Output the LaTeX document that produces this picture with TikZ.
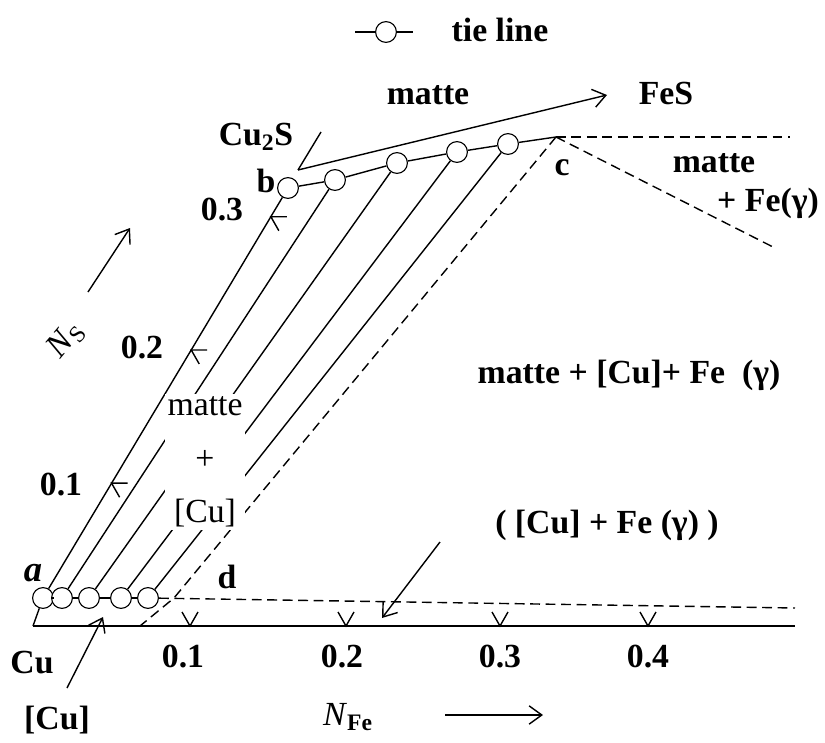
\documentclass[tikz,border=0pt]{standalone}
\usepackage{fontspec}
\setmainfont{Liberation Serif}
\usetikzlibrary{arrows.meta, calc, positioning}

\begin{document}
\begin{tikzpicture}[
  x=0.025cm, y=-0.025cm,
  font=\fontsize{24}{28}\selectfont\bfseries,
  %% tie-line end circle
  tiept/.style={circle, draw, fill=white, line width=0.8pt,
    minimum size=0.52cm, inner sep=0pt},
  %% plain phase boundary / tie line
  bnd/.style={line width=1pt},
  %% dashed boundary
  dbnd/.style={line width=1pt, dash pattern=on 7pt off 4pt},
  %% pointer / direction arrow
  ptr/.style={-{Straight Barb[length=9pt,width=13pt]}, line width=1pt},
  %% text label
  lbl/.style={inner sep=1pt},
]
\useasboundingbox (0,0) rectangle (825,743);

%% ── LEGEND ──────────────────────────────────────────────────────────────────
\coordinate (legL) at (355,32);
\coordinate (legR) at (413,32);
\node[tiept] (leg) at (386,32) {};
\draw[bnd] (legL) -- (leg) (leg) -- (legR);
\node[lbl, anchor=west] (legT) at (450,30) {tie line};

%% ── TIE-LINE END POINTS ────────────────────────────────────────────────────
%% [Cu] side (bottom) and matte side (top)
\foreach \i/\x in {1/43, 2/62, 3/89, 4/121, 5/148}
  \node[tiept] (a\i) at (\x,598) {};
\foreach \i/\x/\y in {1/288/188, 2/335/180, 3/397/163, 4/457/152, 5/508/144}
  \node[tiept] (b\i) at (\x,\y) {};

\coordinate (O)   at (33,626);   % Cu
\coordinate (axR) at (795,626);
\coordinate (c)   at (556,137);
\coordinate (d)   at (174,598);
\coordinate (dO)  at (140,626);
\coordinate (dR)  at (795,608);
\coordinate (cE)  at (790,137);
\coordinate (cS)  at (775,248);

%% ── AXIS AND BOUNDARIES ────────────────────────────────────────────────────
\draw[bnd] (O) -- (axR);
\draw[bnd] (a1) -- (O);
\foreach \i/\k in {1/2, 2/3, 3/4, 4/5} {
  \draw[bnd] (a\i) -- (a\k);
  \draw[bnd] (b\i) -- (b\k);
}
\draw[bnd] (b5) -- (c);
\foreach \i in {1,...,5}
  \draw[bnd] (a\i) -- (b\i);
\draw[dbnd] (a5) -- (dR);
\draw[dbnd] (c) -- (cE);
\draw[dbnd] (c) -- (cS);
\draw[dbnd] (c) -- (d) -- (dO);

%% ── TICKS ──────────────────────────────────────────────────────────────────
\foreach \x/\lx/\v in {190/183/0.1, 346/342/0.2, 500/500/0.3, 648/648/0.4} {
  \draw[bnd] (\x-8,612) -- (\x,626) -- (\x+8,612);
  \node[lbl] at (\lx,657) {\v};
}
\foreach \t in {0.28, 0.605, 0.93}
  \draw[bnd] ($(a1.center)!\t!(b1.center)+(16,0)$) -- ++(-16,0) -- ++(8,14);
\node[lbl] (s1) at (61,485) {0.1};
\node[lbl] (s2) at (142,348) {0.2};
\node[lbl] (s3) at (222,210) {0.3};

%% ── REGION LABELS ──────────────────────────────────────────────────────────
\node[lbl, fill=white, align=center, inner sep=2pt,
      font=\fontsize{24}{38}\selectfont\mdseries]
  (mid) at (205,462) {matte\\+\\{}[Cu]};
\node[lbl] (topM)  at (428,95)  {matte};
\node[lbl] (FeS)   at (666,93)  {FeS};
\node[lbl] (cuS)   at (256,137) {Cu\textsubscript{2}S};
\node[lbl] (bL)    at (266,181) {b};
\node[lbl] (cL)    at (562,168) {c};
\node[lbl] (dL)    at (227,577) {d};
\node[lbl, font=\fontsize{26}{28}\selectfont\bfseries\itshape]
  (aL) at (33,573) {a};
\node[lbl] (rM)    at (714,163) {matte};
\node[lbl] (rF)    at (768,203) {+ Fe(γ)};
\node[lbl] (three) at (629,375) {matte + [Cu]+ Fe\ \ (γ)};
\node[lbl] (two)   at (607,525) {( [Cu] + Fe (γ) )};
\node[lbl] (cuO)   at (32,663)  {Cu};
\node[lbl] (cuB)   at (57,720)  {[Cu]};

%% ── AXIS NAMES ─────────────────────────────────────────────────────────────
\node[lbl, rotate=50, font=\fontsize{24}{28}\selectfont\mdseries]
  (NS) at (66,340) {\textit{N}\textsubscript{S}};
\node[lbl, font=\fontsize{24}{28}\selectfont\mdseries]
  (NFe) at (348,717) {\textit{N}\textsubscript{\bfseries Fe}};

%% ── ARROWS ─────────────────────────────────────────────────────────────────
\coordinate (cuSp) at (321,132);
\coordinate (cuSb) at (298,170);
\coordinate (feTip) at (607,95);
\draw[bnd] (cuSp) -- (cuSb);
\draw[ptr] (cuSb) -- (feTip);
\coordinate (nsA) at (88,292);
\coordinate (nsB) at (130,228);
\draw[ptr] (nsA) -- (nsB);
\coordinate (nfA) at (445,715);
\coordinate (nfB) at (543,715);
\draw[ptr] (nfA) -- (nfB);
\coordinate (cuBp) at (67,688);
\coordinate (cuBt) at (103,617);
\draw[ptr] (cuBp) -- (cuBt);
\coordinate (twoP) at (440,542);
\coordinate (twoT) at (382,618);
\draw[ptr] (twoP) -- (twoT);

\end{tikzpicture}
\end{document}
